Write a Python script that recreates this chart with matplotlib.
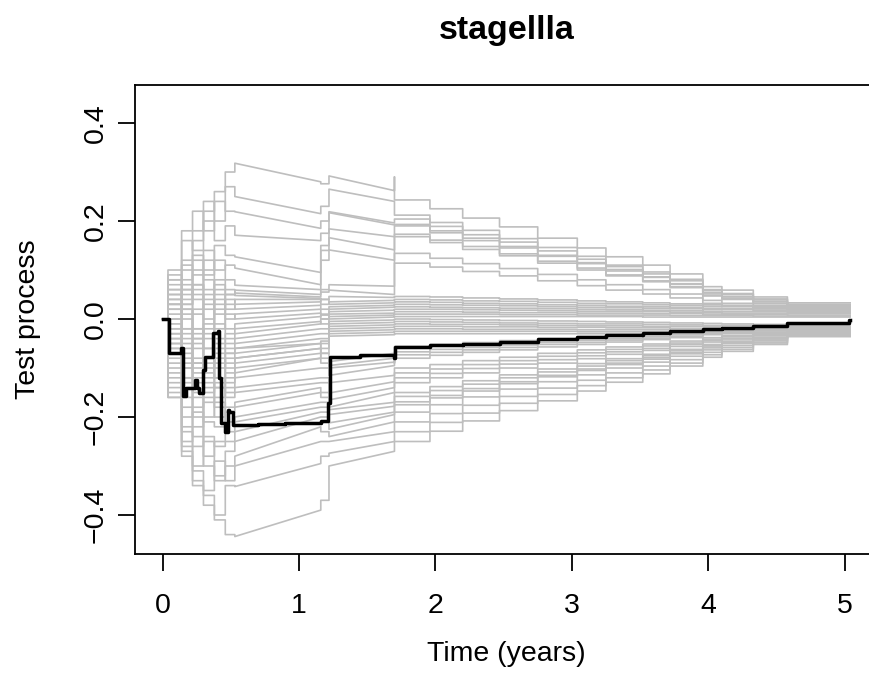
import matplotlib
matplotlib.use("Agg")
import matplotlib.pyplot as plt

plt.rcParams['font.family'] = ['Liberation Sans', 'DejaVu Sans']

title = "stagellla"
x_label = "Time (years)"
y_label = "Test process"
x_ticks = [0, 1, 2, 3, 4, 5]
y_ticks = [-0.4, -0.2, 0.0, 0.2, 0.4]
y_tick_labels = ["\u22120.4", "\u22120.2", "0.0", "0.2", "0.4"]

# observed test process (step function)
obs_time = [0.0, 0.046, 0.137, 0.149, 0.174, 0.235, 0.25, 0.266, 0.295, 0.308, 0.357,
            0.369, 0.403, 0.415, 0.43, 0.455, 0.48, 0.49, 0.516, 0.70, 0.90,
            1.16, 1.21, 1.224, 1.45, 1.70, 1.705, 1.96, 2.2, 2.47, 2.75, 3.04,
            3.25, 3.52, 3.72, 3.96, 4.1, 4.33, 4.58, 5.03, 5.04]
obs_value = [0.0, -0.069, -0.059, -0.158, -0.141, -0.124, -0.141, -0.152, -0.104, -0.078, -0.078,
             -0.029, -0.025, -0.12, -0.212, -0.23, -0.186, -0.19, -0.216, -0.214, -0.212,
             -0.209, -0.172, -0.077, -0.074, -0.080, -0.057, -0.053, -0.050, -0.047, -0.040, -0.037,
             -0.033, -0.029, -0.024, -0.020, -0.018, -0.015, -0.008, -0.002, -0.002]

# simulated processes under the null
# sim_early rows: steps at early_times, level at 0.53 and 1.16,
# levels at 1.16 / 1.22 / 1.70, spike at 1.70
early_times = [0.04, 0.14, 0.22, 0.30, 0.38, 0.46]
late_times = [1.70, 1.96, 2.20, 2.47, 2.75, 3.04, 3.25, 3.52, 3.72, 3.96, 4.10, 4.33, 4.58]
t_end = 5.04

sim_early = [
    [0.06, 0.12, 0.18, 0.22, 0.26, 0.30, 0.318, 0.280, 0.276, 0.292, 0.262, 0.290],
    [0.10, 0.16, 0.14, 0.24, 0.20, 0.27, 0.250, 0.215, 0.230, 0.265, 0.240, 0.240],
    [0.04, 0.18, 0.22, 0.18, 0.24, 0.22, 0.219, 0.185, 0.200, 0.219, 0.196, 0.196],
    [0.08, 0.10, 0.16, 0.20, 0.16, 0.19, 0.171, 0.160, 0.175, 0.217, 0.192, 0.192],
    [0.02, 0.08, 0.12, 0.10, 0.15, 0.13, 0.127, 0.095, 0.150, 0.184, 0.168, 0.168],
    [0.05, 0.03, 0.09, 0.14, 0.10, 0.11, 0.104, 0.070, 0.140, 0.166, 0.141, 0.141],
    [0.00, 0.06, 0.04, 0.09, 0.12, 0.08, 0.069, 0.060, 0.120, 0.141, 0.120, 0.120],
    [-0.02, 0.04, 0.07, 0.02, 0.06, 0.06, 0.053, 0.045, 0.060, 0.070, 0.067, 0.067],
    [0.03, -0.02, 0.02, 0.05, 0.03, 0.05, 0.059, 0.050, 0.055, 0.059, 0.050, 0.050],
    [0.09, 0.05, 0.10, 0.06, 0.08, 0.05, 0.048, 0.042, 0.040, 0.046, 0.044, 0.044],
    [-0.04, 0.02, -0.03, 0.04, 0.01, 0.03, 0.040, 0.040, 0.030, 0.035, 0.038, 0.038],
    [0.07, 0.11, 0.05, 0.00, 0.04, 0.02, 0.030, 0.035, 0.040, 0.030, 0.033, 0.033],
    [-0.06, -0.10, -0.05, -0.02, 0.02, 0.04, 0.020, 0.028, 0.010, 0.025, 0.028, 0.028],
    [0.02, -0.04, 0.06, 0.12, 0.05, 0.00, 0.010, 0.020, 0.020, 0.020, 0.024, 0.024],
    [-0.03, 0.06, 0.01, -0.06, -0.02, 0.01, 0.000, 0.012, 0.000, 0.015, 0.018, 0.018],
    [0.04, 0.00, -0.08, -0.04, 0.07, -0.02, -0.010, 0.005, 0.008, 0.010, 0.012, 0.012],
    [-0.05, -0.12, -0.06, 0.03, -0.05, -0.03, -0.020, -0.005, -0.010, 0.005, 0.008, 0.008],
    [0.01, 0.07, 0.13, 0.08, -0.01, -0.04, -0.030, -0.010, 0.000, 0.000, 0.004, 0.004],
    [-0.01, -0.07, -0.12, -0.08, -0.10, -0.05, -0.040, -0.020, -0.020, -0.005, -0.002, -0.002],
    [0.05, 0.02, -0.02, -0.10, -0.06, -0.06, -0.050, -0.030, -0.030, -0.010, -0.007, -0.007],
    [-0.02, -0.09, -0.04, -0.01, -0.09, -0.07, -0.060, -0.040, -0.040, -0.015, -0.012, -0.012],
    [0.08, 0.03, 0.07, -0.03, -0.12, -0.09, -0.070, -0.050, -0.045, -0.020, -0.017, -0.017],
    [-0.07, -0.02, -0.11, -0.15, -0.07, -0.10, -0.080, -0.060, -0.050, -0.025, -0.022, -0.022],
    [0.03, -0.05, -0.09, -0.13, -0.16, -0.12, -0.090, -0.070, -0.060, -0.030, -0.027, -0.027],
    [-0.04, -0.13, -0.18, -0.11, -0.14, -0.15, -0.110, -0.080, -0.070, -0.035, -0.032, -0.032],
    [-0.03, -0.06, -0.02, -0.08, -0.04, -0.07, -0.060, -0.050, -0.070, -0.087, -0.070, -0.070],
    [0.06, 0.01, -0.04, -0.09, -0.12, -0.08, -0.080, -0.060, -0.080, -0.095, -0.080, -0.090],
    [-0.08, -0.03, -0.10, -0.06, -0.14, -0.11, -0.100, -0.080, -0.090, -0.100, -0.088, -0.088],
    [0.00, -0.10, -0.15, -0.12, -0.08, -0.13, -0.120, -0.100, -0.100, -0.115, -0.095, -0.095],
    [-0.12, -0.16, -0.09, -0.16, -0.18, -0.14, -0.140, -0.120, -0.120, -0.130, -0.115, -0.115],
    [-0.05, -0.14, -0.20, -0.17, -0.13, -0.16, -0.150, -0.130, -0.130, -0.151, -0.128, -0.128],
    [0.03, -0.08, -0.13, -0.21, -0.22, -0.18, -0.170, -0.140, -0.150, -0.165, -0.140, -0.140],
    [-0.10, -0.18, -0.22, -0.14, -0.20, -0.19, -0.180, -0.150, -0.160, -0.180, -0.150, -0.150],
    [-0.14, -0.20, -0.16, -0.24, -0.26, -0.21, -0.200, -0.170, -0.170, -0.185, -0.170, -0.170],
    [-0.06, -0.22, -0.26, -0.20, -0.17, -0.23, -0.210, -0.180, -0.180, -0.195, -0.178, -0.178],
    [-0.16, -0.12, -0.24, -0.28, -0.25, -0.25, -0.230, -0.190, -0.190, -0.212, -0.190, -0.190],
    [-0.09, -0.25, -0.19, -0.30, -0.32, -0.27, -0.250, -0.200, -0.200, -0.225, -0.195, -0.195],
    [-0.13, -0.27, -0.30, -0.25, -0.33, -0.30, -0.280, -0.220, -0.230, -0.240, -0.210, -0.210],
    [-0.15, -0.23, -0.31, -0.35, -0.29, -0.33, -0.300, -0.250, -0.250, -0.250, -0.230, -0.230],
    [-0.11, -0.26, -0.34, -0.36, -0.40, -0.34, -0.342, -0.295, -0.280, -0.274, -0.250, -0.250],
    [-0.16, -0.28, -0.33, -0.38, -0.41, -0.44, -0.444, -0.390, -0.370, -0.300, -0.270, -0.270],
]

# sim_late rows: step levels at late_times (same path order as sim_early)
sim_late = [
    [0.243, 0.225, 0.206, 0.188, 0.165, 0.145, 0.127, 0.110, 0.092, 0.066, 0.059, 0.045, 0.033],
    [0.212, 0.197, 0.181, 0.164, 0.146, 0.128, 0.110, 0.096, 0.081, 0.060, 0.052, 0.041, 0.030],
    [0.204, 0.189, 0.172, 0.157, 0.139, 0.122, 0.107, 0.092, 0.078, 0.058, 0.050, 0.039, 0.028],
    [0.193, 0.180, 0.165, 0.148, 0.130, 0.115, 0.101, 0.086, 0.072, 0.054, 0.046, 0.036, 0.026],
    [0.190, 0.176, 0.160, 0.145, 0.128, 0.113, 0.098, 0.085, 0.071, 0.053, 0.045, 0.035, 0.025],
    [0.173, 0.161, 0.148, 0.133, 0.118, 0.104, 0.090, 0.078, 0.066, 0.049, 0.042, 0.032, 0.023],
    [0.168, 0.156, 0.142, 0.129, 0.114, 0.100, 0.088, 0.076, 0.064, 0.047, 0.040, 0.031, 0.022],
    [0.134, 0.124, 0.113, 0.103, 0.091, 0.080, 0.070, 0.060, 0.051, 0.038, 0.032, 0.025, 0.018],
    [0.114, 0.106, 0.097, 0.088, 0.078, 0.068, 0.059, 0.051, 0.043, 0.032, 0.027, 0.021, 0.015],
    [0.046, 0.045, 0.043, 0.041, 0.039, 0.037, 0.035, 0.033, 0.031, 0.029, 0.028, 0.027, 0.026],
    [0.040, 0.039, 0.037, 0.036, 0.034, 0.032, 0.031, 0.029, 0.028, 0.026, 0.025, 0.024, 0.023],
    [0.035, 0.034, 0.032, 0.031, 0.029, 0.028, 0.026, 0.025, 0.024, 0.022, 0.021, 0.021, 0.020],
    [0.030, 0.029, 0.028, 0.027, 0.025, 0.024, 0.023, 0.022, 0.021, 0.020, 0.019, 0.018, 0.017],
    [0.025, 0.024, 0.023, 0.022, 0.021, 0.020, 0.019, 0.018, 0.017, 0.016, 0.015, 0.015, 0.014],
    [0.020, 0.020, 0.019, 0.018, 0.017, 0.016, 0.016, 0.015, 0.014, 0.013, 0.012, 0.012, 0.011],
    [0.015, 0.015, 0.014, 0.013, 0.013, 0.012, 0.012, 0.011, 0.011, 0.010, 0.009, 0.009, 0.008],
    [0.010, 0.010, 0.010, 0.009, 0.009, 0.008, 0.008, 0.008, 0.007, 0.007, 0.007, 0.006, 0.006],
    [0.005, 0.005, 0.005, 0.005, 0.005, 0.005, 0.005, 0.004, 0.004, 0.004, 0.004, 0.004, 0.004],
    [0.000, -0.001, -0.002, -0.003, -0.004, -0.005, -0.006, -0.007, -0.008, -0.009, -0.010, -0.011, -0.012],
    [-0.005, -0.006, -0.007, -0.008, -0.009, -0.010, -0.010, -0.011, -0.012, -0.013, -0.013, -0.014, -0.015],
    [-0.010, -0.011, -0.011, -0.012, -0.013, -0.014, -0.014, -0.015, -0.015, -0.016, -0.017, -0.017, -0.018],
    [-0.015, -0.015, -0.016, -0.016, -0.017, -0.017, -0.018, -0.018, -0.019, -0.019, -0.020, -0.020, -0.021],
    [-0.020, -0.020, -0.021, -0.021, -0.021, -0.022, -0.022, -0.022, -0.023, -0.023, -0.023, -0.024, -0.024],
    [-0.025, -0.025, -0.025, -0.025, -0.025, -0.026, -0.026, -0.026, -0.026, -0.026, -0.026, -0.027, -0.027],
    [-0.030, -0.030, -0.030, -0.030, -0.030, -0.030, -0.030, -0.030, -0.030, -0.030, -0.030, -0.030, -0.030],
    [-0.056, -0.052, -0.048, -0.044, -0.040, -0.036, -0.033, -0.029, -0.026, -0.022, -0.020, -0.016, -0.012],
    [-0.067, -0.062, -0.058, -0.053, -0.048, -0.044, -0.040, -0.036, -0.032, -0.027, -0.025, -0.020, -0.015],
    [-0.073, -0.068, -0.063, -0.058, -0.052, -0.048, -0.043, -0.039, -0.035, -0.030, -0.027, -0.022, -0.017],
    [-0.080, -0.074, -0.068, -0.063, -0.057, -0.052, -0.047, -0.042, -0.038, -0.032, -0.029, -0.024, -0.019],
    [-0.100, -0.093, -0.085, -0.078, -0.070, -0.063, -0.057, -0.051, -0.045, -0.038, -0.034, -0.028, -0.021],
    [-0.110, -0.102, -0.093, -0.085, -0.076, -0.069, -0.062, -0.055, -0.049, -0.041, -0.036, -0.030, -0.023],
    [-0.120, -0.111, -0.101, -0.092, -0.083, -0.075, -0.067, -0.060, -0.052, -0.044, -0.039, -0.032, -0.025],
    [-0.130, -0.120, -0.110, -0.100, -0.090, -0.081, -0.072, -0.064, -0.056, -0.047, -0.041, -0.034, -0.026],
    [-0.150, -0.138, -0.126, -0.114, -0.102, -0.091, -0.081, -0.072, -0.062, -0.052, -0.045, -0.037, -0.028],
    [-0.158, -0.146, -0.133, -0.120, -0.108, -0.096, -0.085, -0.075, -0.065, -0.054, -0.047, -0.038, -0.029],
    [-0.169, -0.156, -0.142, -0.128, -0.115, -0.102, -0.090, -0.079, -0.069, -0.057, -0.049, -0.040, -0.030],
    [-0.175, -0.161, -0.147, -0.132, -0.118, -0.105, -0.093, -0.082, -0.071, -0.059, -0.050, -0.041, -0.031],
    [-0.190, -0.175, -0.159, -0.143, -0.128, -0.114, -0.100, -0.088, -0.076, -0.063, -0.054, -0.044, -0.033],
    [-0.210, -0.193, -0.176, -0.158, -0.141, -0.125, -0.110, -0.096, -0.083, -0.068, -0.058, -0.047, -0.034],
    [-0.230, -0.211, -0.192, -0.172, -0.154, -0.136, -0.120, -0.104, -0.090, -0.073, -0.062, -0.049, -0.035],
    [-0.250, -0.229, -0.208, -0.187, -0.167, -0.147, -0.129, -0.112, -0.096, -0.078, -0.066, -0.052, -0.036],
]


def path_xy(early_row, late_row):
    steps, mid, jumps, spike = early_row[0:6], early_row[6:8], early_row[8:11], early_row[11]
    xs, ys = [0.0], [0.0]
    prev = 0.0
    for t, v in zip(early_times, steps):
        xs += [t, t]
        ys += [prev, v]
        prev = v
    # slow drift between 0.53 and 1.16
    xs += [0.53, 0.53, 1.16]
    ys += [prev, mid[0], mid[1]]
    # jumps around 1.2, then drift up to 1.70
    xs += [1.16, 1.22, 1.22, 1.70]
    ys += [jumps[0], jumps[0], jumps[1], jumps[2]]
    xs += [1.70, 1.70]
    ys += [spike, late_row[0]]
    prev = late_row[0]
    for t, v in zip(late_times[1:], late_row[1:]):
        xs += [t, t]
        ys += [prev, v]
        prev = v
    xs.append(t_end)
    ys.append(prev)
    return xs, ys


fig = plt.figure(figsize=(8.69, 6.87), dpi=100)
ax = fig.add_axes([135 / 869, (687 - 554) / 687, (878 - 135) / 869, (554 - 85) / 687])

for e_row, l_row in zip(sim_early, sim_late):
    xs, ys = path_xy(e_row, l_row)
    ax.plot(xs, ys, color="#BEBEBE", lw=1.2)

ax.step(obs_time, obs_value, where="post", color="black", lw=2.5)

ax.set_xlim(-0.2017, 5.244)
ax.set_ylim(-0.4796, 0.4776)
ax.set_xticks(x_ticks)
ax.set_yticks(y_ticks)
ax.set_yticklabels(y_tick_labels)
for lab in ax.get_yticklabels():
    lab.set_rotation(90)
    lab.set_va("center")

for sp in ax.spines.values():
    sp.set_linewidth(1.3)
ax.spines["right"].set_visible(False)
ax.tick_params(direction="out", length=12, width=1.3, labelsize=20.5, color="black")
ax.tick_params(axis="x", pad=16)
ax.tick_params(axis="y", pad=7)

ax.set_xlabel(x_label, fontsize=20.5, labelpad=16)
ax.set_ylabel(y_label, fontsize=20.5, labelpad=30)
ax.set_title(title, fontsize=24.5, fontweight="bold", pad=33)

fig.savefig("out.png", dpi=100)
